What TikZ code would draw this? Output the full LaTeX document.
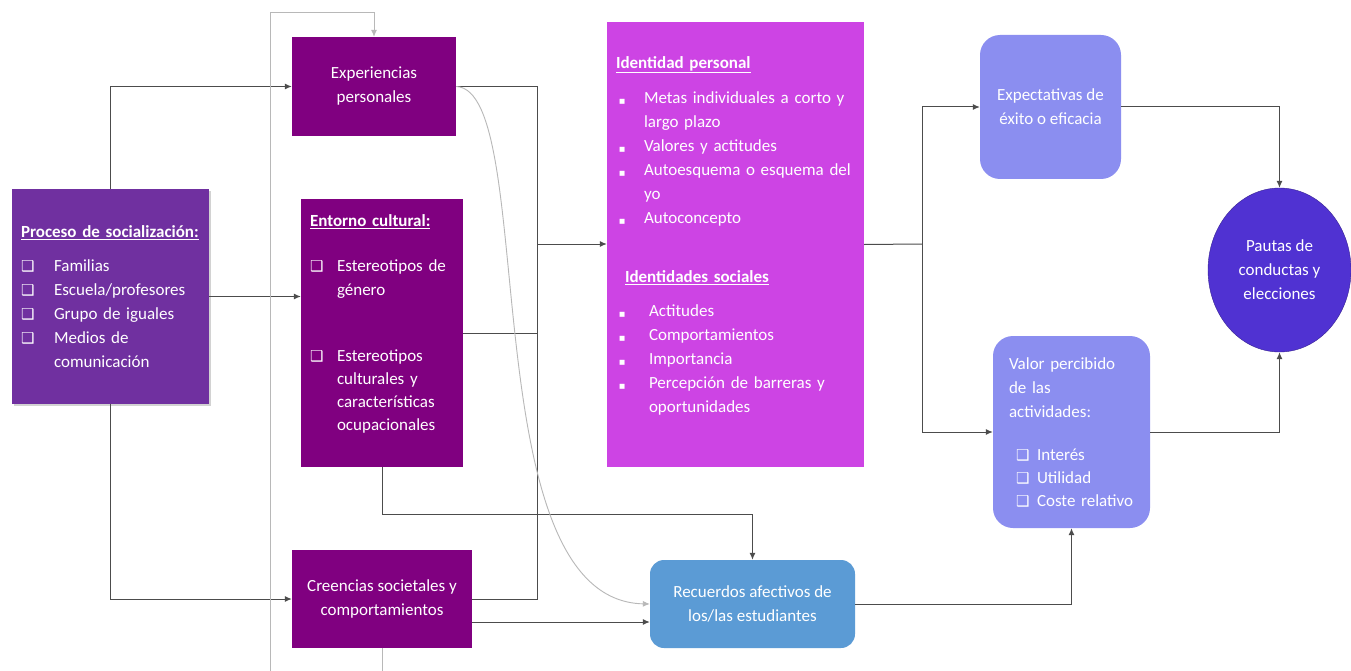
\documentclass[tikz,border=0pt]{standalone}
\usepackage{fontspec}
\setmainfont{Carlito}
\newfontfamily\symfont{DejaVu Sans}
\usetikzlibrary{arrows.meta, shapes.geometric, shadows}

\definecolor{procCol}{RGB}{112,48,160}
\definecolor{boxCol}{RGB}{128,0,128}
\definecolor{identCol}{RGB}{205,68,228}
\definecolor{recCol}{RGB}{91,155,213}
\definecolor{lavCol}{RGB}{139,142,240}
\definecolor{pautCol}{RGB}{80,50,210}

\newcommand{\chk}{{\symfont\fontsize{15}{15}\selectfont ❑}} % casilla
\newcommand{\sqb}{{\symfont\fontsize{6.5}{6.5}\selectfont ■}} % viñeta
\newcommand{\itm}[3]{\mbox{\makebox[#1][l]{#2}#3}} % sangría, símbolo, texto
\newcommand{\cnt}[2]{\mbox{\hspace*{#1}#2}} % línea de continuación

\begin{document}
\begin{tikzpicture}[x=1pt,y=-1pt,>={Latex[length=7pt,width=6pt]},
  font=\fontsize{17}{24}\selectfont,
  caja/.style={rectangle, text=white, inner sep=0pt, inner xsep=9pt},
  redonda/.style={caja, rounded corners=20pt},
  flecha/.style={draw=black!70, line width=1pt},
  gris/.style={draw=black!28, line width=0.9pt}]
  \path[use as bounding box, fill=white] (0,0) rectangle (1351,671); % fondo

  % nodos
  \node (soc) [caja, fill=procCol, drop shadow={shadow xshift=2pt, shadow yshift=-2pt, opacity=.35},
    minimum width=197pt, minimum height=215pt, text width=179pt, align=left] at (110.5,296.5) {%
    \mbox{\underline{\textbf{Proceso de socialización:}}}\\[10pt]
    \itm{33pt}{\chk}{Familias}\\
    \itm{33pt}{\chk}{Escuela/profesores}\\
    \itm{33pt}{\chk}{Grupo de iguales}\\
    \itm{33pt}{\chk}{Medios de}\\
    \cnt{33pt}{comunicación}};
  \node (exp) [caja, fill=boxCol, minimum width=164pt, minimum height=99pt, align=center]
    at (374,86.5) {Experiencias\\personales};
  \node (ent) [caja, fill=boxCol, minimum width=162pt, minimum height=268pt, text width=144pt, align=left]
    at (382,333) {%
    \mbox{\underline{\textbf{Entorno cultural:}}}\\[21pt]
    \itm{27pt}{\chk}{Estereotipos de}\\
    \cnt{27pt}{género}\\[42pt]
    \itm{27pt}{\chk}{Estereotipos}\\[-1pt]
    \cnt{27pt}{culturales y}\\[-1pt]
    \cnt{27pt}{características}\\[-1pt]
    \cnt{27pt}{ocupacionales}\\[-4pt]
    \mbox{}};
  \node (cre) [caja, fill=boxCol, minimum width=180pt, minimum height=98pt, align=center]
    at (382,599) {Creencias societales y\\comportamientos};
  \node (ide) [caja, fill=identCol, minimum width=257pt, minimum height=445pt, text width=239pt, align=left]
    at (735.5,244.5) {%
    \mbox{\underline{\textbf{Identidad personal}}}\\[11pt]
    \itm{28pt}{\hspace*{3pt}\sqb}{Metas individuales a corto y}\\
    \cnt{28pt}{largo plazo}\\
    \itm{28pt}{\hspace*{3pt}\sqb}{Valores y actitudes}\\
    \itm{28pt}{\hspace*{3pt}\sqb}{Autoesquema o esquema del}\\
    \cnt{28pt}{yo}\\
    \itm{28pt}{\hspace*{3pt}\sqb}{Autoconcepto}\\[35pt]
    \mbox{\hspace*{9pt}\underline{\textbf{Identidades sociales}}}\\[10pt]
    \itm{33pt}{\hspace*{3pt}\sqb}{Actitudes}\\
    \itm{33pt}{\hspace*{3pt}\sqb}{Comportamientos}\\
    \itm{33pt}{\hspace*{3pt}\sqb}{Importancia}\\
    \itm{33pt}{\hspace*{3pt}\sqb}{Percepción de barreras y}\\
    \cnt{33pt}{oportunidades}\\[-4pt]
    \mbox{}};
  \node (rec) [caja, rounded corners=14pt, fill=recCol, minimum width=205pt, minimum height=88pt, align=center]
    at (752.5,604) {Recuerdos afectivos de\\los/las estudiantes};
  \node (expc) [redonda, fill=lavCol, minimum width=141pt, minimum height=144pt, align=center]
    at (1050.5,107) {Expectativas de\\éxito o eficacia};
  \node (val) [redonda, fill=lavCol, minimum width=157pt, minimum height=192pt, inner xsep=16pt,
    text width=125pt, align=left] at (1071.5,432) {%
    Valor percibido\\
    de las\\
    actividades:\\[19pt]
    \itm{28pt}{\hspace*{7pt}\chk}{Interés}\\[-1pt]
    \itm{28pt}{\hspace*{7pt}\chk}{Utilidad}\\[-1pt]
    \itm{28pt}{\hspace*{7pt}\chk}{Coste relativo}};
  \node (pau) [ellipse, fill=pautCol, draw=pautCol!70!black, text=white, inner sep=0pt,
    minimum width=143pt, minimum height=164pt, align=center]
    at (1279.5,270) {Pautas de\\conductas y\\elecciones};

  % puntos de unión
  \coordinate (j1) at (537,244);
  \coordinate (j2) at (922,244);
  \coordinate (lazo) at (270,12);

  % flechas
  \draw[flecha,->] (soc.north) |- (exp.west);
  \draw[flecha,->] (soc.south) |- (cre.west);
  \draw[flecha,->] (soc.east) -- (soc.east -| ent.west);
  \draw[flecha] (exp.east) -| (j1);
  \draw[flecha] (ent.east) -| (j1);
  \draw[flecha] (cre.east) -| (j1);
  \draw[flecha,->] (j1) -- (j1 -| ide.west);
  \draw[flecha,->] (ent.south) -- ++(0,47) -| (rec.north);
  \draw[flecha,->] ([yshift=-23pt]cre.east) -- ([yshift=-23pt]cre.east -| rec.west);
  \draw[flecha,->] (rec.east) -| (val.south);
  \draw[flecha] (ide.east) -- (j2);
  \foreach \t in {expc,val} {
    \draw[flecha,->] (j2) |- (\t.west);
  }
  \draw[flecha,->] (expc.east) -| (pau.north);
  \draw[flecha,->] (val.east) -| (pau.south);

  % líneas grises
  \draw[gris,->] (exp.east) .. controls (540,90) and (470,600) .. (rec.west);
  \draw[gris,->] (cre.south) -- ++(0,60) -| (lazo) -| (exp.north);
\end{tikzpicture}
\end{document}
